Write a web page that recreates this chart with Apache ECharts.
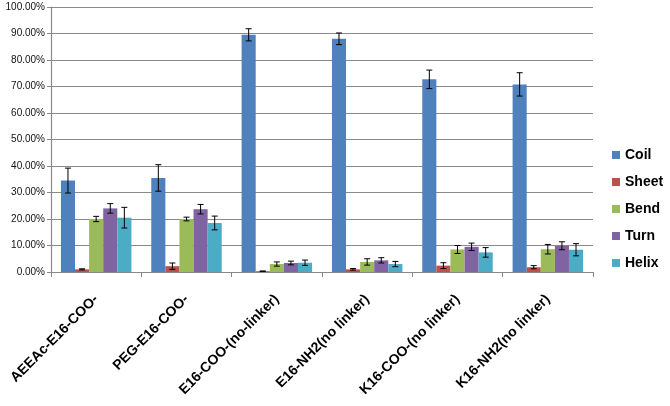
<!DOCTYPE html>
<html>
<head>
<meta charset="utf-8">
<script src="https://cdn.jsdelivr.net/npm/echarts@6/dist/echarts.min.js"></script>
<style>
    html, body { margin: 0; padding: 0; background: #fff; }
    #chart { width: 670px; height: 406px; }
</style>
</head>
<body>
<div id="chart"></div>
<script>
    // 类别与数据（百分比，读自图）
    var categories = ['AEEAc-E16-COO-', 'PEG-E16-COO-', 'E16-COO-(no-linker)', 'E16-NH2(no linker)', 'K16-COO-(no linker)', 'K16-NH2(no linker)'];
    var seriesNames = ['Coil', 'Sheet', 'Bend', 'Turn', 'Helix'];
    var colorList = ['#4F81BD', '#C0504D', '#9BBB59', '#8064A2', '#4BACC6'];

    var coil  = [34.5, 35.5, 89.5, 88.0, 72.7, 70.8];
    var sheet = [1.0, 2.2, 0.3, 1.0, 2.4, 1.8];
    var bend  = [20.0, 20.0, 3.0, 3.8, 8.5, 8.6];
    var turn  = [24.0, 23.7, 3.4, 4.4, 9.5, 9.9];
    var helix = [20.5, 18.5, 3.5, 3.0, 7.4, 8.4];

    // 误差（±）
    var coilErr  = [4.7, 5.0, 2.3, 2.2, 3.5, 4.4];
    var sheetErr = [0.2, 1.2, 0.1, 0.3, 1.1, 0.6];
    var bendErr  = [1.0, 0.7, 0.8, 1.2, 1.5, 1.8];
    var turnErr  = [1.8, 1.8, 0.7, 1.0, 1.4, 1.5];
    var helixErr = [3.9, 2.6, 1.0, 1.0, 1.8, 2.3];

    var values = [coil, sheet, bend, turn, helix];
    var errs = [coilErr, sheetErr, bendErr, turnErr, helixErr];
    var catGap = 0.22;

    var series = [];
    var errData = [];
    for (var k = 0; k < seriesNames.length; k++) {
        series.push({
            name: seriesNames[k],
            type: 'bar',
            barGap: '0%',
            barCategoryGap: (catGap * 100) + '%',
            itemStyle: { color: colorList[k] },
            data: values[k].map(function (v) { return v / 100; })
        });
        for (var i = 0; i < categories.length; i++) {
            errData.push([i, k, values[k][i] / 100, errs[k][i] / 100]);
        }
    }

    // 误差线
    series.push({
        type: 'custom',
        name: 'err',
        silent: true,
        z: 10,
        data: errData,
        encode: { x: 0, y: 2 },
        renderItem: function (params, api) {
            var cat = api.value(0), k = api.value(1), v = api.value(2), e = api.value(3);
            var band = api.size([1, 0])[0];
            var barW = band * (1 - catGap) / 5;
            var x = api.coord([cat, 0])[0] + (k - 2) * barW;
            var yTop = api.coord([cat, v + e])[1];
            var yBot = api.coord([cat, v - e])[1];
            var cap = 3;
            var style = { stroke: '#000', lineWidth: 1 };
            return {
                type: 'group',
                children: [
                    { type: 'line', shape: { x1: x, y1: yTop, x2: x, y2: yBot }, style: style },
                    { type: 'line', shape: { x1: x - cap, y1: yTop, x2: x + cap, y2: yTop }, style: style },
                    { type: 'line', shape: { x1: x - cap, y1: yBot, x2: x + cap, y2: yBot }, style: style }
                ]
            };
        }
    });

    var myChart = echarts.init(document.getElementById('chart'));
    var option = {
        animation: false,
        grid: { left: 51, right: 77, top: 7, bottom: 134 },
        legend: {
            data: seriesNames,
            orient: 'vertical',
            left: 607,
            top: 143,
            itemWidth: 8,
            itemHeight: 8,
            itemGap: 13,
            icon: 'rect',
            textStyle: { color: '#000', fontSize: 14, fontWeight: 'bold', fontFamily: 'Liberation Sans' }
        },
        xAxis: {
            type: 'category',
            data: categories,
            axisLine: { lineStyle: { color: '#888', width: 1.2 } },
            axisTick: { show: true, length: 5, lineStyle: { color: '#888' } },
            axisLabel: {
                rotate: 45,
                interval: 0,
                margin: 25,
                color: '#000',
                fontSize: 14,
                fontWeight: 'bold',
                fontFamily: 'Liberation Sans'
            }
        },
        yAxis: {
            type: 'value',
            min: 0,
            max: 1,
            interval: 0.1,
            axisLine: { show: true, lineStyle: { color: '#888', width: 1.2 } },
            axisTick: { show: true, length: 4, lineStyle: { color: '#888' } },
            splitLine: { lineStyle: { color: '#8a8a8a', width: 1.2 } },
            axisLabel: {
                margin: 6,
                color: '#111',
                fontSize: 10,
                fontFamily: 'Liberation Sans',
                formatter: function (v) { return (v * 100).toFixed(2) + '%'; }
            }
        },
        series: series
    };
    myChart.setOption(option);
</script>
</body>
</html>
